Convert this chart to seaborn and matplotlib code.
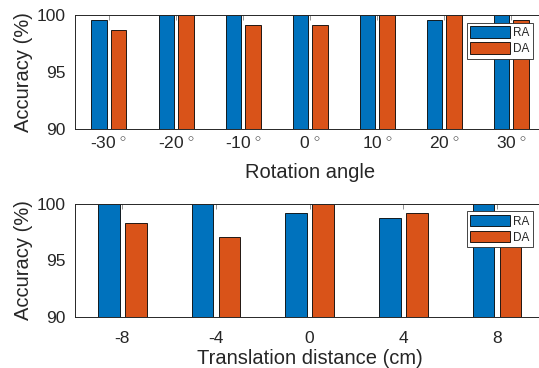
import pandas as pd
import numpy as np
import matplotlib
matplotlib.use('Agg')
import matplotlib.pyplot as plt
import seaborn as sns

# Dados
rot_labels = ['-30', '-20', '-10', '0', '10', '20', '30']
rot_ra = [99.58, 100, 100, 100, 100, 99.58, 100]
rot_da = [98.75, 100, 99.17, 99.17, 100, 100, 99.58]

trans_labels = ['-8', '-4', '0', '4', '8']
trans_ra = [100, 100, 99.17, 98.75, 100]
trans_da = [98.33, 97.07, 100, 99.17, 98.33]

series = ['RA', 'DA']
cores = ['#0072BD', '#D95319']

sns.set_style('white')
plt.rcParams['font.family'] = ['Liberation Sans', 'DejaVu Sans']
plt.rcParams['mathtext.fontset'] = 'custom'
plt.rcParams['mathtext.rm'] = 'Liberation Sans'

fig = plt.figure(figsize=(5.39, 3.68), dpi=100)
ax1 = fig.add_axes([0.140, 0.6505, 0.871, 0.3075])
ax2 = fig.add_axes([0.140, 0.139, 0.869, 0.307])


def monta_df(labels, ra, da):
    return pd.DataFrame({
        'cat': labels * 2,
        'valor': ra + da,
        'serie': ['RA'] * len(labels) + ['DA'] * len(labels),
    })


def desenha(ax, df, labels, ticklabels, xlabel, leg_top, xpad, lpad):
    sns.barplot(data=df, x='cat', y='valor', hue='serie', order=labels,
                hue_order=series, palette=cores, width=0.58, gap=0.2,
                edgecolor='black', linewidth=0.6, saturation=1, ax=ax)
    ax.set_ylim(90, 100)
    ax.set_yticks([90, 95, 100])
    ax.set_xlim(-0.5, len(labels) - 0.5)
    ax.set_xticks(range(len(labels)))
    ax.set_xticklabels(ticklabels)
    ax.set_xlabel(xlabel, fontsize=14.5, color='#262626', labelpad=lpad)
    ax.set_ylabel('Accuracy (%)', fontsize=14.5, color='#262626', labelpad=3)
    ax.tick_params(axis='both', direction='in', length=3.5, width=0.6,
                   color='#808080', labelsize=12.5, labelcolor='#262626',
                   top=True, right=True)
    ax.tick_params(axis='x', pad=xpad)
    ax.tick_params(axis='y', pad=7)
    for s in ax.spines.values():
        s.set_color('#262626')
        s.set_linewidth(0.7)
    ax.legend(loc='upper right', bbox_to_anchor=(532.7 / 539, leg_top),
              bbox_transform=fig.transFigure, fontsize=8.5, frameon=True,
              fancybox=False, edgecolor='#262626', framealpha=1,
              handlelength=3.4, handleheight=1.1, handletextpad=0.2,
              borderpad=0.3, labelspacing=0.3, borderaxespad=0)
    ax.get_legend().get_frame().set_linewidth(0.6)


rot_ticks = [f'{v}$^{{\\,\\circ}}$' for v in rot_labels]
desenha(ax1, monta_df(rot_labels, rot_ra, rot_da), rot_labels, rot_ticks,
        'Rotation angle', 1 - 22.7 / 368, 5, 8)
desenha(ax2, monta_df(trans_labels, trans_ra, trans_da), trans_labels,
        trans_labels, 'Translation distance (cm)', 1 - 211.3 / 368, 10, 2)

fig.savefig('out.png', dpi=100)
